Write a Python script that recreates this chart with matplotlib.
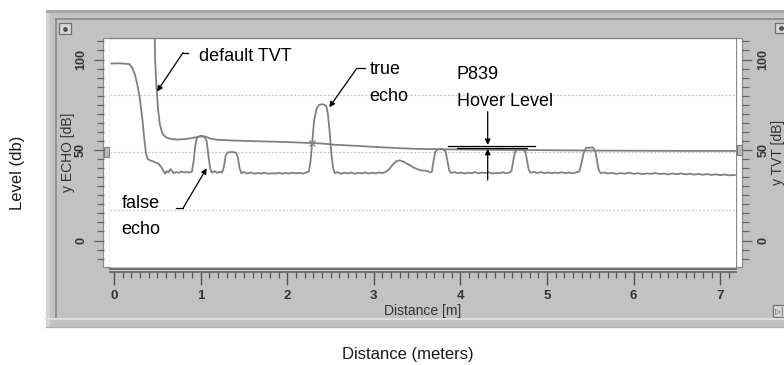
import matplotlib
matplotlib.use("Agg")
import matplotlib.pyplot as plt
from matplotlib.patches import Rectangle
import numpy as np

plt.rcParams['font.family'] = ['Liberation Sans', 'DejaVu Sans']

# ---------------- data ----------------
echo_dist = [-0.03, 0.05, 0.12, 0.18, 0.21, 0.24, 0.27, 0.30, 0.33, 0.35, 0.37, 0.39, 0.42, 0.45,
             0.48, 0.51, 0.54, 0.57, 0.59, 0.61, 0.63, 0.65, 0.67, 0.69, 0.72, 0.75, 0.78, 0.81,
             0.84, 0.87, 0.90, 0.92, 0.94, 0.96, 1.00, 1.04, 1.07, 1.09, 1.11, 1.13, 1.16, 1.19,
             1.22, 1.25, 1.27, 1.29, 1.31, 1.36, 1.41, 1.43, 1.45, 1.47, 1.50, 1.54, 1.58, 1.62,
             1.66, 1.70, 1.74, 1.78, 1.82, 1.86, 1.90, 1.94, 1.98, 2.02, 2.06, 2.10, 2.14, 2.18,
             2.22, 2.25, 2.27, 2.29, 2.31, 2.34, 2.37, 2.41, 2.45, 2.47, 2.49, 2.51, 2.53, 2.55,
             2.58, 2.62, 2.66, 2.70, 2.74, 2.78, 2.82, 2.86, 2.90, 2.94, 2.98, 3.02, 3.06, 3.10,
             3.14, 3.18, 3.22, 3.26, 3.30, 3.34, 3.38, 3.42, 3.46, 3.50, 3.54, 3.58, 3.62, 3.65,
             3.67, 3.69, 3.71, 3.74, 3.80, 3.83, 3.85, 3.87, 3.89, 3.93, 3.97, 4.01, 4.05, 4.09,
             4.13, 4.17, 4.21, 4.25, 4.29, 4.33, 4.37, 4.41, 4.45, 4.49, 4.53, 4.57, 4.59, 4.61,
             4.63, 4.66, 4.72, 4.75, 4.77, 4.79, 4.81, 4.85, 4.89, 4.93, 4.97, 5.01, 5.05, 5.09,
             5.13, 5.17, 5.21, 5.25, 5.29, 5.33, 5.37, 5.40, 5.42, 5.45, 5.53, 5.56, 5.58, 5.60,
             5.62, 5.66, 5.70, 5.75, 5.80, 5.85, 5.90, 5.95, 6.00, 6.05, 6.10, 6.15, 6.20, 6.25,
             6.30, 6.35, 6.40, 6.45, 6.50, 6.55, 6.60, 6.65, 6.70, 6.75, 6.80, 6.85, 6.90, 6.95,
             7.00, 7.05, 7.10, 7.17]
echo_db = [97.8, 97.9, 97.7, 97.4, 95.5, 92.0, 86.0, 78.0, 66.0, 56.0, 48.0, 45.0, 44.2, 43.8,
           43.0, 42.5, 41.0, 38.5, 37.0, 38.3, 37.6, 39.5, 38.4, 37.2, 37.8, 37.4, 38.1, 37.6,
           37.9, 37.5, 38.0, 44.0, 53.0, 57.0, 57.8, 57.6, 55.0, 47.0, 40.0, 37.5, 38.3, 37.4,
           37.9, 37.6, 41.0, 47.0, 48.6, 48.9, 48.5, 46.0, 40.0, 37.2, 37.8, 37.0, 37.6, 36.9,
           37.3, 37.0, 37.5, 36.8, 37.2, 37.0, 37.4, 36.9, 37.3, 37.0, 37.5, 37.1, 37.3, 37.0,
           37.6, 38.0, 44.0, 55.0, 66.0, 73.0, 75.0, 75.3, 74.5, 70.0, 60.0, 48.0, 40.0, 37.2,
           37.8, 36.9, 37.5, 37.0, 37.6, 36.9, 37.4, 37.1, 37.6, 37.0, 37.5, 37.1, 37.6, 37.3,
           38.0, 39.5, 42.0, 43.8, 44.3, 43.6, 42.5, 41.5, 40.3, 39.5, 38.8, 38.6, 38.3, 37.6,
           38.0, 44.0, 49.0, 50.4, 50.5, 49.0, 44.0, 39.0, 37.3, 37.8, 37.2, 37.6, 37.0, 37.5,
           37.2, 37.8, 37.1, 37.5, 37.3, 37.6, 37.0, 37.4, 37.2, 37.7, 37.1, 37.6, 38.5, 44.0,
           49.0, 50.4, 50.6, 49.0, 44.0, 39.0, 37.4, 37.9, 37.3, 37.8, 37.2, 37.6, 37.1, 37.5,
           37.3, 37.7, 37.2, 37.6, 37.1, 37.5, 38.0, 43.0, 48.0, 51.2, 51.4, 49.0, 43.0, 38.5,
           37.2, 37.6, 37.0, 37.4, 36.8, 37.2, 36.9, 37.5, 36.8, 37.2, 36.6, 37.1, 36.8, 37.3,
           36.7, 37.0, 36.5, 37.0, 36.6, 37.1, 36.5, 36.9, 36.4, 36.8, 36.3, 36.7, 36.2, 36.6,
           36.1, 36.5, 36.0, 36.2]

tvt_dist = [-0.03, 0.47, 0.475, 0.49, 0.51, 0.53, 0.56, 0.60, 0.65, 0.72, 0.82, 0.92, 1.00,
            1.06, 1.12, 1.20, 1.40, 1.60, 1.84, 2.05, 2.30, 2.40, 2.55, 2.80, 3.05, 3.30, 3.50,
            3.80, 4.20, 4.60, 5.00, 5.50, 6.00, 6.60, 7.17]
tvt_db = [111.9, 111.9, 100.0, 85.0, 72.0, 64.0, 59.0, 57.0, 56.2, 55.8, 56.0, 56.8, 57.5,
          57.3, 56.2, 55.6, 55.2, 54.9, 54.6, 54.3, 53.8, 53.6, 52.9, 52.3, 51.6, 51.0, 50.6,
          50.4, 50.2, 50.0, 49.9, 49.7, 49.6, 49.5, 49.5]

x_ticks = [0, 1, 2, 3, 4, 5, 6, 7]
x_tick_labels = ["0", "1", "2", "3", "4", "5", "6", "7"]
y_ticks = [0, 50, 100]
y_tick_labels = ["0", "50", "100"]

hover_level = [50.9, 52.4]   # P839 hover level band (dB)

# ---------------- figure ----------------
W, H = 784, 365
fig = plt.figure(figsize=(W / 100, H / 100), dpi=100)
fig.patch.set_facecolor('white')

def fbox(x0, y0, x1, y1):
    return [x0 / W, 1 - y1 / H, (x1 - x0) / W, (y1 - y0) / H]

# background "window" panel in pixel coordinates
bg = fig.add_axes([0, 0, 1, 1], zorder=0)
bg.set_xlim(0, W)
bg.set_ylim(H, 0)
bg.axis('off')
bg.add_patch(Rectangle((46, 10), W - 46, 317, fc='#c2c2c2', ec='none'))
bg.add_patch(Rectangle((46, 10), W - 46, 3, fc='#a6a6a6', ec='none'))
bg.add_patch(Rectangle((46, 13), 4, 314, fc='#d2d2d2', ec='none'))
bg.plot([56, W], [18.5, 18.5], color='#8a8a8a', lw=1.2)
bg.plot([56.5, 56.5], [18.5, 318], color='#8a8a8a', lw=1.2)
bg.plot([46, W], [318.5, 318.5], color='#dedede', lw=1.5)
bg.plot([46, W], [326.5, 326.5], color='#b0b0b0', lw=1.0)
# small buttons
bg.add_patch(Rectangle((59, 23), 12, 11, fc='#d8d8d8', ec='#707070', lw=0.9))
bg.plot([65], [28.5], marker='o', ms=2.5, color='#555555')
bg.add_patch(Rectangle((775, 23), 12, 10, fc='#d8d8d8', ec='#707070', lw=0.9))
bg.plot([781], [28], marker='o', ms=2.5, color='#555555')
bg.add_patch(Rectangle((773, 305), 14, 12, fc='#d8d8d8', ec='#707070', lw=0.9))
bg.text(779, 311.5, "▷|", fontsize=5.5, ha='center', va='center', color='#444444',
        family=['DejaVu Sans'])
# white side strips next to the plot area
bg.add_patch(Rectangle((103, 38), 7, 229, fc='white', ec='#8a8a8a', lw=0.9))
bg.add_patch(Rectangle((736, 38), 6, 229, fc='white', ec='#8a8a8a', lw=0.9))
# small level markers on the strips
bg.add_patch(Rectangle((104, 147), 5, 10, fc='#b8b8b8', ec='#777777', lw=0.7))
bg.add_patch(Rectangle((737, 145), 5, 10, fc='#b8b8b8', ec='#777777', lw=0.7))
# double line under the plot
bg.plot([110, 736], [268.5, 268.5], color='#6a6a6a', lw=1.3)

# ---------------- main axes ----------------
ax = fig.add_axes(fbox(110, 38, 736, 267), zorder=2)
ax.set_facecolor('white')
ax.set_xlim(-0.046, 7.182)
ax.set_ylim(-14.64, 111.88)

# quarter grid lines (dotted)
for gy in [17.0, 48.7, 80.35]:
    ax.axhline(gy, color='#c6c6c6', lw=0.9, ls=(0, (1.5, 1.5)), zorder=1)

ax.plot(tvt_dist, tvt_db, color='#808080', lw=1.3, zorder=3, solid_joinstyle='round')
ax.plot(echo_dist, echo_db, color='#808080', lw=1.3, zorder=3, solid_joinstyle='round')
# small cross where the TVT meets the true echo
ax.plot([2.29], [54.0], marker='x', ms=5, mew=0.9, color='#808080', zorder=3)

for s in ['top', 'left', 'right']:
    ax.spines[s].set_color('#8a8a8a')
    ax.spines[s].set_linewidth(1.0)
ax.spines['left'].set_visible(False)
ax.spines['right'].set_visible(False)
ax.spines['bottom'].set_position(('outward', 3.8))
ax.spines['bottom'].set_color('#6a6a6a')
ax.spines['bottom'].set_linewidth(1.3)

ax.set_xticks(x_ticks)
ax.set_xticklabels(x_tick_labels)
ax.set_xticks(np.arange(0, 7.15, 0.1), minor=True)
ax.tick_params(axis='x', which='major', length=9, width=1.0, color='#555555',
               labelsize=9.5, labelcolor='#333333', pad=4)
ax.tick_params(axis='x', which='minor', length=4, width=0.9, color='#555555')
for lab in ax.get_xticklabels():
    lab.set_fontweight('bold')

ax.spines['left'].set_position(('outward', 4.5))
ax.set_yticks(y_ticks)
ax.set_yticklabels(y_tick_labels)
ax.set_yticks(np.arange(-10, 111, 5), minor=True)
ax.tick_params(axis='y', which='major', length=7, width=1.0, color='#666666',
               labelsize=9, labelcolor='#333333', pad=5)
ax.tick_params(axis='y', which='minor', length=5, width=0.9, color='#666666')
for lab in ax.get_yticklabels():
    lab.set_rotation(90)
    lab.set_va('center')
    lab.set_fontweight('bold')

# right axis (TVT)
ax2 = ax.twinx()
ax2.set_zorder(3)
ax2.set_ylim(ax.get_ylim())
for s in ['top', 'left', 'bottom', 'right']:
    ax2.spines[s].set_visible(False)
ax2.spines['right'].set_position(('outward', 4.5))
ax2.set_yticks(y_ticks)
ax2.set_yticklabels(y_tick_labels)
ax2.set_yticks(np.arange(-10, 111, 5), minor=True)
ax2.tick_params(axis='y', which='major', length=7, width=1.0, color='#666666',
                labelsize=9, labelcolor='#333333', pad=4)
ax2.tick_params(axis='y', which='minor', length=5, width=0.9, color='#666666')
for lab in ax2.get_yticklabels():
    lab.set_rotation(90)
    lab.set_va('center')
    lab.set_fontweight('bold')

# window axis titles
fig.text(68 / W, 1 - 152 / H, "y ECHO [dB]", rotation=90, ha='center', va='center',
         fontsize=10, color='#333333')
fig.text(778 / W, 1 - 152 / H, "y TVT [dB]", rotation=90, ha='center', va='center',
         fontsize=10, color='#333333')
fig.text(423 / W, 1 - 311 / H, "Distance [m]", ha='center', va='center',
         fontsize=10, color='#333333')

# outer labels
fig.text(18 / W, 1 - 173 / H, "Level (db)", rotation=90, ha='center', va='center',
         fontsize=12, color='#1a1a1a')
fig.text(408 / W, 1 - 355 / H, "Distance (meters)", ha='center', va='center',
         fontsize=12, color='#1a1a1a')

# ---------------- annotations ----------------
tfs = 13
aprops = dict(arrowstyle='-|>', color='black', lw=0.9, mutation_scale=8,
              shrinkA=0, shrinkB=0)

ax.text(0.982, 99.3, "default TVT", fontsize=tfs, va='baseline', ha='left', zorder=6)
ax.plot([0.855, 0.797], [103.8, 103.8], color='black', lw=0.9, zorder=6)
ax.annotate('', xy=(0.497, 82.3), xytext=(0.797, 103.8), arrowprops=aprops, zorder=6)

ax.text(2.948, 92.0, "true", fontsize=tfs, va='baseline', ha='left', zorder=6)
ax.text(2.948, 77.2, "echo", fontsize=tfs, va='baseline', ha='left', zorder=6)
ax.plot([2.898, 2.803], [95.1, 95.1], color='black', lw=0.9, zorder=6)
ax.annotate('', xy=(2.486, 73.6), xytext=(2.803, 95.1), arrowprops=aprops, zorder=6)

ax.text(3.957, 89.2, "P839", fontsize=tfs, va='baseline', ha='left', zorder=6)
ax.text(3.957, 74.3, "Hover Level", fontsize=tfs, va='baseline', ha='left', zorder=6)
ax.plot([3.860, 4.861], [hover_level[1], hover_level[1]], color='black', lw=0.9, zorder=6)
ax.plot([3.957, 4.765], [hover_level[0], hover_level[0]], color='black', lw=0.9, zorder=6)
ax.annotate('', xy=(4.315, hover_level[1] + 0.4), xytext=(4.315, 71.2), arrowprops=aprops, zorder=6)
ax.annotate('', xy=(4.315, hover_level[0] - 0.3), xytext=(4.315, 33.4), arrowprops=aprops, zorder=6)

ax.text(0.089, 18.1, "false", fontsize=tfs, va='baseline', ha='left', zorder=6)
ax.text(0.089, 3.4, "echo", fontsize=tfs, va='baseline', ha='left', zorder=6)
ax.plot([0.716, 0.800], [18.1, 18.1], color='black', lw=0.9, zorder=6)
ax.annotate('', xy=(1.070, 39.9), xytext=(0.800, 18.1), arrowprops=aprops, zorder=6)

fig.savefig("out.png", dpi=100, facecolor='white')
